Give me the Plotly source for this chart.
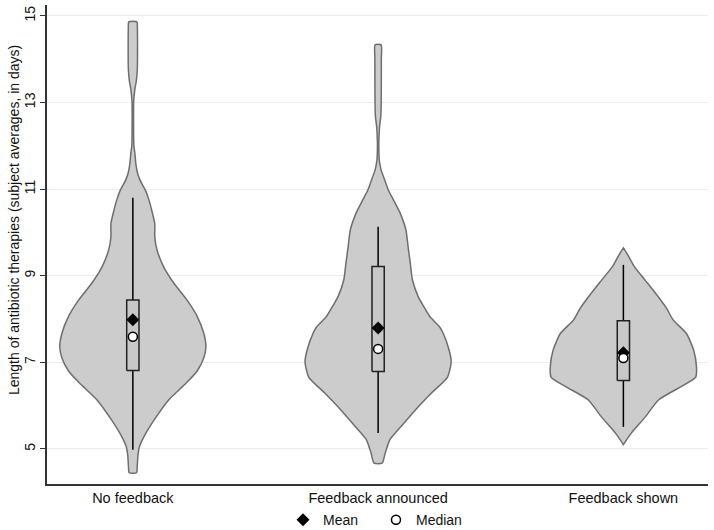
import plotly.graph_objects as go

# categories and summary statistics (days)
categories = ["No feedback", "Feedback announced", "Feedback shown"]
whisker_low = [4.98, 5.37, 5.51]
box_q1 = [6.81, 6.79, 6.58]
box_q3 = [8.44, 9.21, 7.96]
whisker_high = [10.80, 10.13, 9.25]
means = [7.98, 7.79, 7.22]
medians = [7.59, 7.31, 7.10]

# violin outlines: y levels and relative density (1 = widest)
dens_y_1 = [4.45, 4.6, 4.85, 5.05, 5.37, 5.74, 6.13, 6.52, 6.8, 7.1, 7.36, 7.67,
            8.06, 8.44, 8.83, 9.21, 9.6, 9.9, 10.2, 10.5, 10.75, 10.98, 11.2,
            11.37, 11.6, 11.84, 12.0, 12.5, 13.0, 13.3, 13.5, 13.8, 14.3, 14.7, 14.86]
dens_1 = [0.05, 0.06, 0.07, 0.09, 0.18, 0.32, 0.49, 0.73, 0.88, 0.97, 1.0, 0.97,
          0.88, 0.74, 0.56, 0.42, 0.33, 0.30, 0.30, 0.26, 0.22, 0.17, 0.10,
          0.064, 0.04, 0.027, 0.014, 0.01, 0.011, 0.027, 0.048, 0.062, 0.064, 0.062, 0.055]

dens_y_2 = [4.67, 4.9, 5.21, 5.51, 5.9, 6.29, 6.66, 7.01, 7.29, 7.67, 7.82, 8.05,
            8.3, 8.51, 8.9, 9.29, 9.67, 10.06, 10.45, 10.75, 10.98, 11.21, 11.45,
            11.67, 11.9, 12.1, 12.44, 12.7, 13.0, 13.5, 14.0, 14.33]
dens_2 = [0.055, 0.096, 0.16, 0.31, 0.51, 0.73, 0.95, 1.0, 0.97, 0.89, 0.84, 0.71,
          0.62, 0.55, 0.47, 0.44, 0.41, 0.38, 0.30, 0.21, 0.14, 0.09, 0.04,
          0.016, 0.01, 0.01, 0.02, 0.038, 0.042, 0.044, 0.044, 0.041]

dens_y_3 = [5.1, 5.37, 5.74, 6.13, 6.44, 6.66, 6.9, 7.29, 7.67, 7.98, 8.25, 8.44,
            8.83, 9.21, 9.45, 9.64]
dens_3 = [0.0, 0.11, 0.30, 0.48, 0.79, 0.99, 1.0, 0.96, 0.86, 0.68, 0.59, 0.51,
          0.33, 0.15, 0.07, 0.0]

violins = [(dens_y_1, dens_1), (dens_y_2, dens_2), (dens_y_3, dens_3)]

VIOLIN_HALF = 0.298
BOX_HALF = 0.025
FONT = "Arial, Liberation Sans, sans-serif"

fig = go.Figure()

for i, (ys, ds) in enumerate(violins):
    xs = [i + d * VIOLIN_HALF for d in ds] + [i - d * VIOLIN_HALF for d in reversed(ds)]
    yy = list(ys) + list(reversed(ys))
    fig.add_trace(go.Scatter(
        x=xs + [xs[0]], y=yy + [yy[0]], mode="lines", fill="toself",
        fillcolor="#cccccc", line=dict(color="#6e6e6e", width=1.5, shape="spline", smoothing=0.6),
        hoverinfo="skip", showlegend=False,
    ))

# whiskers (outside the box)
wx, wy = [], []
for i in range(len(categories)):
    wx += [i, i, None, i, i, None]
    wy += [whisker_low[i], box_q1[i], None, box_q3[i], whisker_high[i], None]
fig.add_trace(go.Scatter(x=wx, y=wy, mode="lines", line=dict(color="black", width=1.5),
                         hoverinfo="skip", showlegend=False))

# boxes
for i in range(len(categories)):
    fig.add_trace(go.Scatter(
        x=[i - BOX_HALF, i + BOX_HALF, i + BOX_HALF, i - BOX_HALF, i - BOX_HALF],
        y=[box_q1[i], box_q1[i], box_q3[i], box_q3[i], box_q1[i]],
        mode="lines", fill="toself", fillcolor="#c8c8c8",
        line=dict(color="#222222", width=1.5), hoverinfo="skip", showlegend=False,
    ))

xpos = list(range(len(categories)))
fig.add_trace(go.Scatter(
    x=xpos, y=means, mode="markers", name="Mean",
    marker=dict(symbol="diamond", size=10, color="black"),
))
fig.add_trace(go.Scatter(
    x=xpos, y=medians, mode="markers", name="Median",
    marker=dict(symbol="circle", size=9, color="white", line=dict(color="black", width=1.5)),
))

# y title as a rotated annotation, placed like in the original (not centred on the axis)
fig.add_annotation(
    text="Length of antibiotic therapies (subject averages, in days)",
    xref="paper", yref="paper", x=-0.05, y=0.551, xanchor="center", yanchor="middle",
    textangle=-90, showarrow=False, font=dict(size=14),
)

fig.update_layout(
    width=714, height=530,
    margin=dict(l=47, r=6, t=5, b=46, autoexpand=False),
    plot_bgcolor="white", paper_bgcolor="white",
    font=dict(family=FONT, size=14, color="#111111"),
    showlegend=True,
    legend=dict(orientation="h", x=0.357, xanchor="left", y=-0.042, yanchor="top",
                font=dict(size=14), itemwidth=30, entrywidth=48, bgcolor="rgba(0,0,0,0)"),
    xaxis=dict(
        range=[-0.35, 2.345], tickvals=xpos, ticktext=categories,
        showgrid=False, zeroline=False, showline=True, linecolor="#333333", linewidth=1.5,
        ticks="", tickfont=dict(size=14.5), automargin=False,
    ),
    yaxis=dict(
        range=[4.19, 15.25], tickvals=[5, 7, 9, 11, 13, 15], tickangle=-90,
        showgrid=True, gridcolor="#ececec", gridwidth=1, zeroline=False,
        showline=True, linecolor="#333333", linewidth=1.5,
        ticks="outside", ticklen=5, tickcolor="#333333", tickfont=dict(size=14),
        automargin=False, ticklabeloverflow="allow",
    ),
)

# drop the default page margin so the figure sits at the window's corner
fig.write_html("out.html", config={"displayModeBar": False},
               post_script="document.body.style.margin = '0';")
